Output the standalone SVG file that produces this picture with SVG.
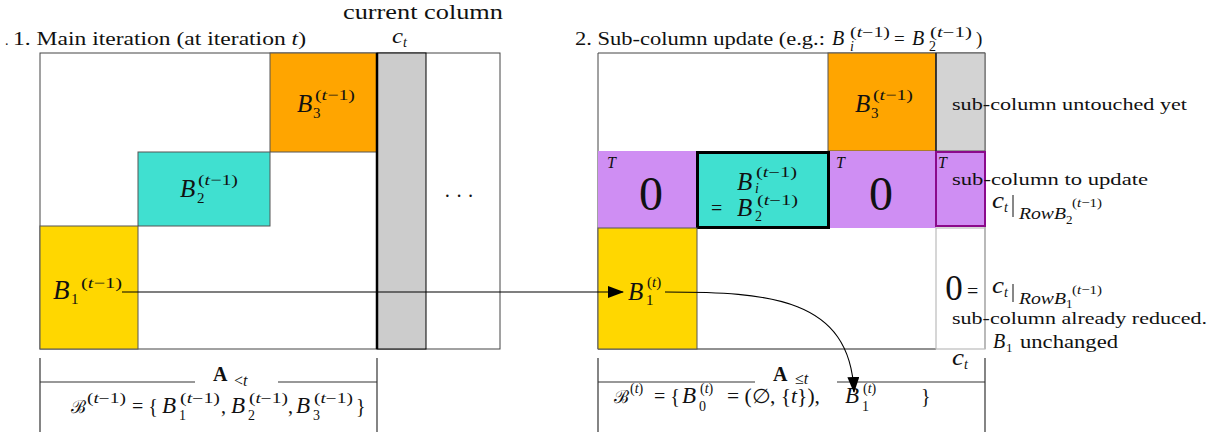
<svg xmlns="http://www.w3.org/2000/svg" width="1222" height="432" viewBox="0 0 1222 432">
<style>
text{font-family:"Liberation Serif","Times New Roman",serif;fill:#111}
.i{font-style:italic}
.lbl{font-size:19px}
.big{font-size:25px}
.bs{font-size:15px}
.mid{font-size:20px}
.bb{font-size:23px}
.ms{font-size:14px}
.sm{font-size:17px}
.c{font-size:23px;font-style:italic}
.T{font-size:16px;font-style:italic}
.scr{font-size:18px}
.frame{fill:none;stroke:#444;stroke-width:1}
.blk{stroke:#555;stroke-width:1}
.line{stroke:#333;stroke-width:1.2;fill:none}
.conn{stroke:#000;stroke-width:1.1;fill:none;marker-end:url(#ah)}
.zero{font-size:48px}
</style>
<defs>
<marker id="ah" markerWidth="16" markerHeight="12" refX="15" refY="6" orient="auto" markerUnits="userSpaceOnUse"><path d="M0,0 L16,6 L0,12 z" fill="#000"/></marker>
</defs>
<rect width="1222" height="432" fill="#fff"/>

<!-- ===== Panel 1 ===== -->
<g id="panel1-title">
<text x="5" y="45" font-size="14">.</text>
<text x="13" y="45" class="lbl" textLength="293" lengthAdjust="spacingAndGlyphs">1. Main iteration (at iteration <tspan class="i">t</tspan>)</text>
<text x="343" y="19" font-size="22" textLength="160" lengthAdjust="spacingAndGlyphs">current column</text>
<text x="392" y="43" font-size="21" class="i" textLength="11" lengthAdjust="spacingAndGlyphs">c</text>
<text x="403" y="47" class="ms i">t</text>
</g>
<g id="panel1-frame">
<rect x="40" y="53" width="460" height="296" fill="#fff" class="frame"/>
</g>
<g id="B3-left">
<rect x="270" y="53" width="107" height="99" fill="#FFA500" class="blk"/>
<text x="297" y="112" class="big i">B</text>
<text x="315" y="100" class="bs" textLength="40" lengthAdjust="spacingAndGlyphs">(<tspan class="i">t</tspan>−1)</text>
<text x="313" y="118" class="bs">3</text>
</g>
<g id="B2-left">
<rect x="138" y="152" width="132" height="74" fill="#40E0D0" class="blk"/>
<text x="180" y="197" class="big i">B</text>
<text x="198" y="185" class="bs" textLength="40" lengthAdjust="spacingAndGlyphs">(<tspan class="i">t</tspan>−1)</text>
<text x="197" y="203" class="bs">2</text>
</g>
<g id="B1-left">
<rect x="40" y="226" width="98" height="123" fill="#FFD700" class="blk"/>
<text x="53" y="299" font-size="27" class="i">B</text>
<text x="71" y="304" class="bs">1</text>
<text x="81" y="288" class="bs" textLength="41" lengthAdjust="spacingAndGlyphs">(<tspan class="i">t</tspan>−1)</text>
</g>
<g id="ct-column-left">
<rect x="377" y="53" width="49" height="296" fill="#cccccc" stroke="#000" stroke-width="1"/>
<line x1="377" y1="53" x2="377" y2="349" stroke="#000" stroke-width="2.5"/>
</g>
<g id="dots-left">
<text x="444" y="203" font-size="20" textLength="30" lengthAdjust="spacing">···</text>
</g>
<g id="A-less-t">
<line x1="40" y1="358" x2="40" y2="432" class="line"/>
<line x1="377" y1="358" x2="377" y2="432" class="line"/>
<line x1="40" y1="382" x2="195" y2="382" class="line"/>
<line x1="278" y1="382" x2="377" y2="382" class="line"/>
<text x="213" y="381" class="mid" font-weight="bold">A</text>
<text x="234" y="386" font-size="16">&lt;<tspan class="i">t</tspan></text>
<text x="71" y="413" class="scr">ℬ</text>
<text x="87" y="403" class="ms" textLength="39" lengthAdjust="spacingAndGlyphs">(<tspan class="i">t</tspan>−1)</text>
<text x="132" y="413" class="mid">= {</text>
<text x="162" y="413" class="bb i">B</text>
<text x="180" y="403" class="ms" textLength="40" lengthAdjust="spacingAndGlyphs">(<tspan class="i">t</tspan>−1)</text>
<text x="179" y="420" class="ms">1</text>
<text x="221" y="413" class="mid">,</text>
<text x="231" y="413" class="bb i">B</text>
<text x="249" y="403" class="ms" textLength="39" lengthAdjust="spacingAndGlyphs">(<tspan class="i">t</tspan>−1)</text>
<text x="248" y="420" class="ms">2</text>
<text x="288" y="413" class="mid">,</text>
<text x="296" y="413" class="bb i">B</text>
<text x="314" y="403" class="ms" textLength="39" lengthAdjust="spacingAndGlyphs">(<tspan class="i">t</tspan>−1)</text>
<text x="313" y="420" class="ms">3</text>
<text x="356" y="413" class="mid">}</text>
</g>

<!-- ===== Panel 2 ===== -->
<g id="panel2-title">
<text x="575" y="45" class="lbl" textLength="250" lengthAdjust="spacingAndGlyphs">2. Sub-column update (e.g.:</text>
<text x="832" y="45" class="mid i">B</text>
<text x="850" y="37" class="ms" textLength="40" lengthAdjust="spacingAndGlyphs">(<tspan class="i">t</tspan>−1)</text>
<text x="850" y="51" class="ms i">i</text>
<text x="894" y="45" class="lbl">=</text>
<text x="912" y="45" class="mid i">B</text>
<text x="930" y="37" class="ms" textLength="42" lengthAdjust="spacingAndGlyphs">(<tspan class="i">t</tspan>−1)</text>
<text x="929" y="51" class="ms">2</text>
<text x="976" y="45" class="lbl">)</text>
</g>
<g id="panel2-frame">
<rect x="598" y="53" width="387" height="296" fill="#fff" stroke="none"/>
<path d="M598,349 V53 H985" class="frame"/>
<line x1="598" y1="349" x2="936" y2="349" stroke="#222" stroke-width="1"/>
<line x1="985" y1="53" x2="985" y2="349" stroke="#888" stroke-width="1.2"/>
</g>
<g id="B3-right">
<rect x="828" y="53" width="108" height="98" fill="#FFA500" class="blk"/>
<text x="855" y="112" class="big i">B</text>
<text x="873" y="100" class="bs" textLength="40" lengthAdjust="spacingAndGlyphs">(<tspan class="i">t</tspan>−1)</text>
<text x="871" y="118" class="bs">3</text>
</g>
<g id="subcol-untouched">
<rect x="936" y="53" width="49" height="98" fill="#d3d3d3" stroke="#555" stroke-width="1"/>
<line x1="936" y1="53" x2="936" y2="151" stroke="#222" stroke-width="1.5"/>
<text x="952" y="110" class="sm" textLength="235" lengthAdjust="spacingAndGlyphs">sub-column untouched yet</text>
</g>
<g id="zero-left">
<rect x="598" y="151" width="99" height="77" fill="#CF8EF3"/>
<text x="607" y="168" class="T">T</text>
<text x="651" y="210" class="zero" text-anchor="middle">0</text>
</g>
<g id="Bi-block">
<rect x="697.5" y="152.5" width="131" height="75" fill="#40E0D0" stroke="#000" stroke-width="3"/>
<text x="737" y="190" class="big i">B</text>
<text x="756" y="177" class="ms" textLength="41" lengthAdjust="spacingAndGlyphs">(<tspan class="i">t</tspan>−1)</text>
<text x="755" y="193" class="ms i">i</text>
<text x="711" y="215" class="mid">=</text>
<text x="737" y="216" class="big i">B</text>
<text x="757" y="205" class="ms" textLength="41" lengthAdjust="spacingAndGlyphs">(<tspan class="i">t</tspan>−1)</text>
<text x="755" y="221" class="ms">2</text>
</g>
<g id="zero-right">
<rect x="830" y="151" width="106" height="77" fill="#CF8EF3"/>
<text x="836" y="168" class="T">T</text>
<text x="881" y="210" class="zero" text-anchor="middle">0</text>
</g>
<g id="subcol-update">
<rect x="936" y="152" width="49" height="74" fill="#CF8EF3" stroke="#8B0A8B" stroke-width="2"/>
<text x="938" y="168" class="T">T</text>
<text x="952" y="185" class="sm" textLength="196" lengthAdjust="spacingAndGlyphs">sub-column to update</text>
<text x="992" y="208" class="c" textLength="12" lengthAdjust="spacingAndGlyphs">c</text>
<text x="1004" y="212" class="ms i">t</text>
<line x1="1013" y1="195" x2="1013" y2="217" stroke="#111" stroke-width="1"/>
<text x="1019" y="219" font-size="16" class="i" textLength="47" lengthAdjust="spacingAndGlyphs">RowB</text>
<text x="1072" y="207" font-size="13" textLength="30" lengthAdjust="spacingAndGlyphs">(<tspan class="i">t</tspan>−1)</text>
<text x="1066" y="224" font-size="13">2</text>
</g>
<g id="B1-right">
<rect x="598" y="228" width="99" height="121" fill="#FFD700" class="blk"/>
<text x="628" y="300" class="big i">B</text>
<text x="647" y="287" class="bs">(<tspan class="i">t</tspan>)</text>
<text x="646" y="305" class="bs">1</text>
</g>
<g id="subcol-reduced">
<rect x="936" y="228" width="49" height="121" fill="none" stroke="#bbb" stroke-width="1.2"/>
<text x="954" y="300" font-size="35" text-anchor="middle">0</text>
<text x="967" y="298" class="mid">=</text>
<text x="992" y="293" class="c" textLength="12" lengthAdjust="spacingAndGlyphs">c</text>
<text x="1004" y="297" class="ms i">t</text>
<line x1="1013" y1="284" x2="1013" y2="302" stroke="#111" stroke-width="1"/>
<text x="1019" y="304" font-size="16" class="i" textLength="47" lengthAdjust="spacingAndGlyphs">RowB</text>
<text x="1072" y="294" font-size="13" textLength="30" lengthAdjust="spacingAndGlyphs">(<tspan class="i">t</tspan>−1)</text>
<text x="1066" y="308" font-size="13">1</text>
<text x="952" y="324" class="sm" textLength="255" lengthAdjust="spacingAndGlyphs">sub-column already reduced.</text>
<text x="993" y="348" font-size="20" class="i">B</text>
<text x="1006" y="352" font-size="13">1</text>
<text x="1020" y="348" font-size="19" textLength="98" lengthAdjust="spacingAndGlyphs">unchanged</text>
<text x="952" y="365" class="c" textLength="12" lengthAdjust="spacingAndGlyphs">c</text>
<text x="964" y="369" class="ms i">t</text>
</g>
<g id="A-leq-t">
<line x1="598" y1="358" x2="598" y2="432" class="line"/>
<line x1="985" y1="358" x2="985" y2="432" class="line"/>
<line x1="598" y1="382" x2="755" y2="382" class="line"/>
<line x1="837" y1="382" x2="985" y2="382" class="line"/>
<text x="773" y="381" class="mid" font-weight="bold">A</text>
<text x="795" y="384" font-size="16">≤<tspan class="i">t</tspan></text>
<text x="614" y="403" class="scr">ℬ</text>
<text x="630" y="393" class="ms">(<tspan class="i">t</tspan>)</text>
<text x="654" y="403" class="mid">= {</text>
<text x="682" y="403" class="bb i">B</text>
<text x="700" y="393" class="ms">(<tspan class="i">t</tspan>)</text>
<text x="699" y="411" class="ms">0</text>
<text x="727" y="403" class="mid" textLength="93" lengthAdjust="spacingAndGlyphs">= (∅, {<tspan class="i">t</tspan>}),</text>
<text x="845" y="403" class="bb i">B</text>
<text x="863" y="393" class="ms">(<tspan class="i">t</tspan>)</text>
<text x="862" y="411" class="ms">1</text>
<text x="921" y="403" class="mid">}</text>
</g>

<g id="connectors">
<path d="M122,292 H623" class="conn"/>
<path d="M665,292 C770,292 850,298 854,392" class="conn"/>
</g>
</svg>
